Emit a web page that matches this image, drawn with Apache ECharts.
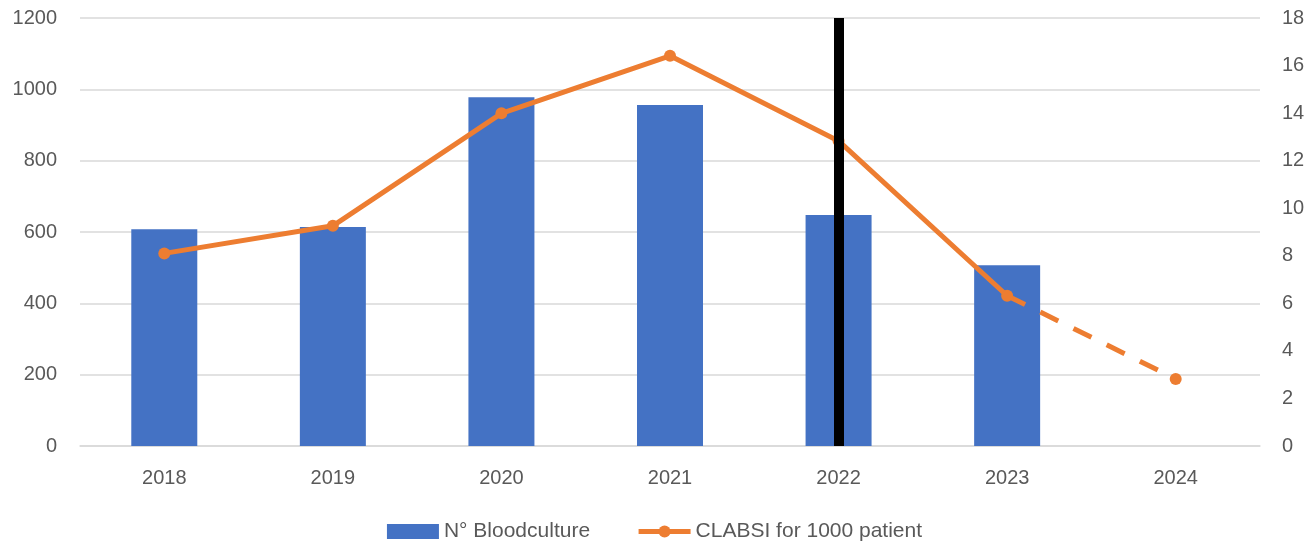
<!DOCTYPE html>
<html>
<head>
<meta charset="utf-8">
<script src="https://cdn.jsdelivr.net/npm/echarts@6/dist/echarts.min.js"></script>
<style>
html,body{margin:0;padding:0;background:#fff;}
#chart{width:1309px;height:543px;}
</style>
</head>
<body>
<div id="chart"></div>
<script>
const categories = ['2018','2019','2020','2021','2022','2023','2024'];
const bloodcultures = [608, 614, 978, 956, 648, 507, null];
const clabsiSolid = [8.1, 9.26, 13.99, 16.41, 12.83, 6.32, null];
const clabsiDashed = [null, null, null, null, null, 6.32, 2.82];
const leftTicks = {min: 0, max: 1200, interval: 200};
const rightTicks = {min: 0, max: 18, interval: 2};
const markerYear = '2022';
const barName = 'N° Bloodculture';
const lineName = 'CLABSI for 1000 patient';

const blue = '#4472C4';
const orange = '#ED7D31';
const labelColor = '#595959';
const gridColor = '#D9D9D9';
const font = 'Liberation Sans';

const chart = echarts.init(document.getElementById('chart'), null, {renderer: 'canvas'});
chart.setOption({
  animation: false,
  backgroundColor: '#fff',
  textStyle: {fontFamily: font},
  grid: {left: 80, right: 49, top: 18, bottom: 97, containLabel: false},
  legend: {
    top: 516,
    left: 'center',
    itemWidth: 52,
    itemHeight: 15,
    itemGap: 46,
    textStyle: {fontFamily: font, fontSize: 21, color: labelColor},
    data: [
      {name: barName, icon: 'rect'},
      {name: lineName, lineStyle: {width: 5}}
    ]
  },
  xAxis: {
    type: 'category',
    data: categories,
    axisLine: {show: true, lineStyle: {color: gridColor, width: 1.5}},
    axisTick: {show: false},
    axisLabel: {color: labelColor, fontSize: 20, fontFamily: font, margin: 22}
  },
  yAxis: [
    {
      type: 'value',
      min: leftTicks.min, max: leftTicks.max, interval: leftTicks.interval,
      axisLine: {show: false},
      axisTick: {show: false},
      splitLine: {show: true, lineStyle: {color: gridColor, width: 1.5}},
      axisLabel: {color: labelColor, fontSize: 20, fontFamily: font, margin: 23, formatter: v => String(v)}
    },
    {
      type: 'value',
      min: rightTicks.min, max: rightTicks.max, interval: rightTicks.interval,
      axisLine: {show: false},
      axisTick: {show: false},
      splitLine: {show: false},
      axisLabel: {color: labelColor, fontSize: 20, fontFamily: font, margin: 22, formatter: v => String(v)}
    }
  ],
  series: [
    {
      name: barName,
      type: 'bar',
      data: bloodcultures,
      barWidth: 66,
      itemStyle: {color: blue},
      z: 2,
      markLine: {
        silent: true,
        symbol: 'none',
        label: {show: false},
        lineStyle: {color: '#000', width: 10, type: 'solid'},
        z: 10,
        data: [[{coord: [markerYear, leftTicks.min]}, {coord: [markerYear, leftTicks.max]}]]
      }
    },
    {
      name: lineName,
      type: 'line',
      yAxisIndex: 1,
      data: clabsiSolid,
      symbol: 'circle',
      symbolSize: 12,
      lineStyle: {color: orange, width: 5},
      itemStyle: {color: orange},
      z: 5
    },
    {
      name: lineName,
      type: 'line',
      yAxisIndex: 1,
      data: clabsiDashed.map((v, i) => (i === 5 ? {value: v, symbol: 'none'} : v)),
      symbol: 'circle',
      symbolSize: 12,
      lineStyle: {color: orange, width: 5, type: [20, 17]},
      itemStyle: {color: orange},
      z: 5
    }
  ]
});
</script>
</body>
</html>
